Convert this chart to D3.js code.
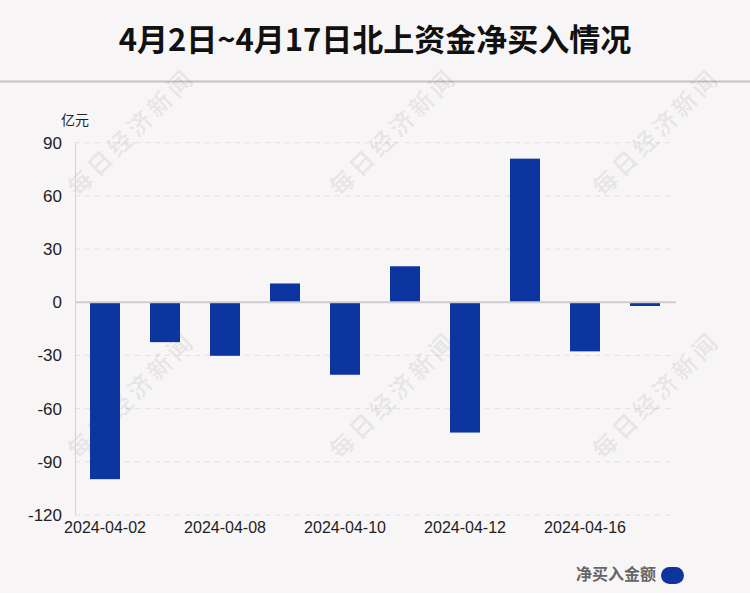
<!DOCTYPE html>
<html><head><meta charset="utf-8">
<script src="https://cdn.jsdelivr.net/npm/d3@7"></script>
<style>
html,body{margin:0;padding:0;background:#f8f5f6;}
svg{display:block;}
</style></head>
<body>
<svg id="chart" width="750" height="593"></svg>
<script>
const title = "4月2日~4月17日北上资金净买入情况";
const unitLabel = "亿元";
const seriesName = "净买入金额";
const dates = ["2024-04-02","2024-04-03","2024-04-08","2024-04-09","2024-04-10","2024-04-11","2024-04-12","2024-04-15","2024-04-16","2024-04-17"];
const values = [-99.8,-22.5,-30.2,10.6,-40.9,20.3,-73.5,81.0,-27.7,-2.1];
const yTicks = [90,60,30,0,-30,-60,-90,-120];
const xLabelDates = ["2024-04-02","2024-04-08","2024-04-10","2024-04-12","2024-04-16"];
const watermark = "每日经济新闻";

const W = 750, H = 593;
const svg = d3.select("#chart");
const latin = "'Liberation Sans', Arial, sans-serif";
const cjk = "'Noto Sans CJK SC', 'Liberation Sans', sans-serif";
const barColor = "#0d35a0";

svg.append("rect").attr("width",W).attr("height",H).attr("fill","#f8f5f6");

// Title
svg.append("text").attr("x",W/2).attr("y",51).attr("text-anchor","middle")
  .attr("font-family",cjk).attr("font-weight","bold").attr("font-size",31)
  .attr("fill","#111").text(title);
svg.append("line").attr("x1",0).attr("x2",W).attr("y1",81.5).attr("y2",81.5)
  .attr("stroke","#c4c2c3").attr("stroke-width",2);

const x = d3.scaleBand().domain(dates).range([75,675]).paddingInner(0.5).paddingOuter(0.25);
const y = d3.scaleLinear().domain([-120,90]).range([515,142.7]);

// Gridlines
svg.append("g").selectAll("line").data(yTicks.filter(t=>t!==0)).join("line")
  .attr("x1",75).attr("x2",675).attr("y1",d=>y(d)).attr("y2",d=>y(d))
  .attr("stroke","#e2dfe0").attr("stroke-dasharray","5,5").attr("stroke-width",1);

// Watermarks
const wmPos = [[130,131],[392,131],[655,131],[130,394],[392,394],[655,394]];
svg.append("g").selectAll("text").data(wmPos).join("text")
  .attr("transform",d=>`translate(${d[0]},${d[1]}) rotate(-45)`)
  .attr("text-anchor","middle").attr("dominant-baseline","central")
  .attr("font-family","'Noto Sans CJK SC',sans-serif").attr("font-weight","bold")
  .attr("font-size",24).attr("letter-spacing",4)
  .attr("fill","#000").attr("fill-opacity",0.07).text(watermark);

// Y axis line
svg.append("line").attr("x1",75.5).attr("x2",75.5).attr("y1",142.7).attr("y2",515)
  .attr("stroke","#d3d1d2").attr("stroke-width",1);

// Y tick labels
const yAxis = d3.axisLeft(y).tickValues(yTicks).tickSize(0).tickPadding(13).tickFormat(d=>String(d));
const gy = svg.append("g").attr("transform","translate(75,0)").call(yAxis);
gy.select(".domain").remove();
gy.attr("font-family",latin);
gy.selectAll("text").attr("font-family",latin).attr("font-size",17).attr("fill","#222");

svg.append("text").attr("x",61).attr("y",125).attr("font-family",cjk).attr("font-size",14)
  .attr("fill","#222").text(unitLabel);

// Bars
svg.append("g").selectAll("rect").data(values).join("rect")
  .attr("x",(d,i)=>x(dates[i])).attr("width",x.bandwidth())
  .attr("y",d=>y(Math.max(0,d))).attr("height",d=>Math.abs(y(d)-y(0)))
  .attr("fill",barColor);

// Zero line
svg.append("line").attr("x1",75).attr("x2",676).attr("y1",y(0)).attr("y2",y(0))
  .attr("stroke","#cfcdce").attr("stroke-width",2);

// X labels
const xAxis = d3.axisBottom(x).tickValues(xLabelDates).tickSize(0).tickPadding(7);
const gx = svg.append("g").attr("transform","translate(0,515)").call(xAxis);
gx.select(".domain").remove();
gx.attr("font-family",latin);
gx.selectAll("text").attr("font-family",latin).attr("font-size",16).attr("fill","#222");

// Legend
svg.append("text").attr("x",656).attr("y",580).attr("text-anchor","end")
  .attr("font-family",cjk).attr("font-weight","bold").attr("font-size",16)
  .attr("fill","#666").text(seriesName);
svg.append("rect").attr("x",661).attr("y",567).attr("width",23).attr("height",17)
  .attr("rx",8.5).attr("fill",barColor);
</script>
</body></html>
